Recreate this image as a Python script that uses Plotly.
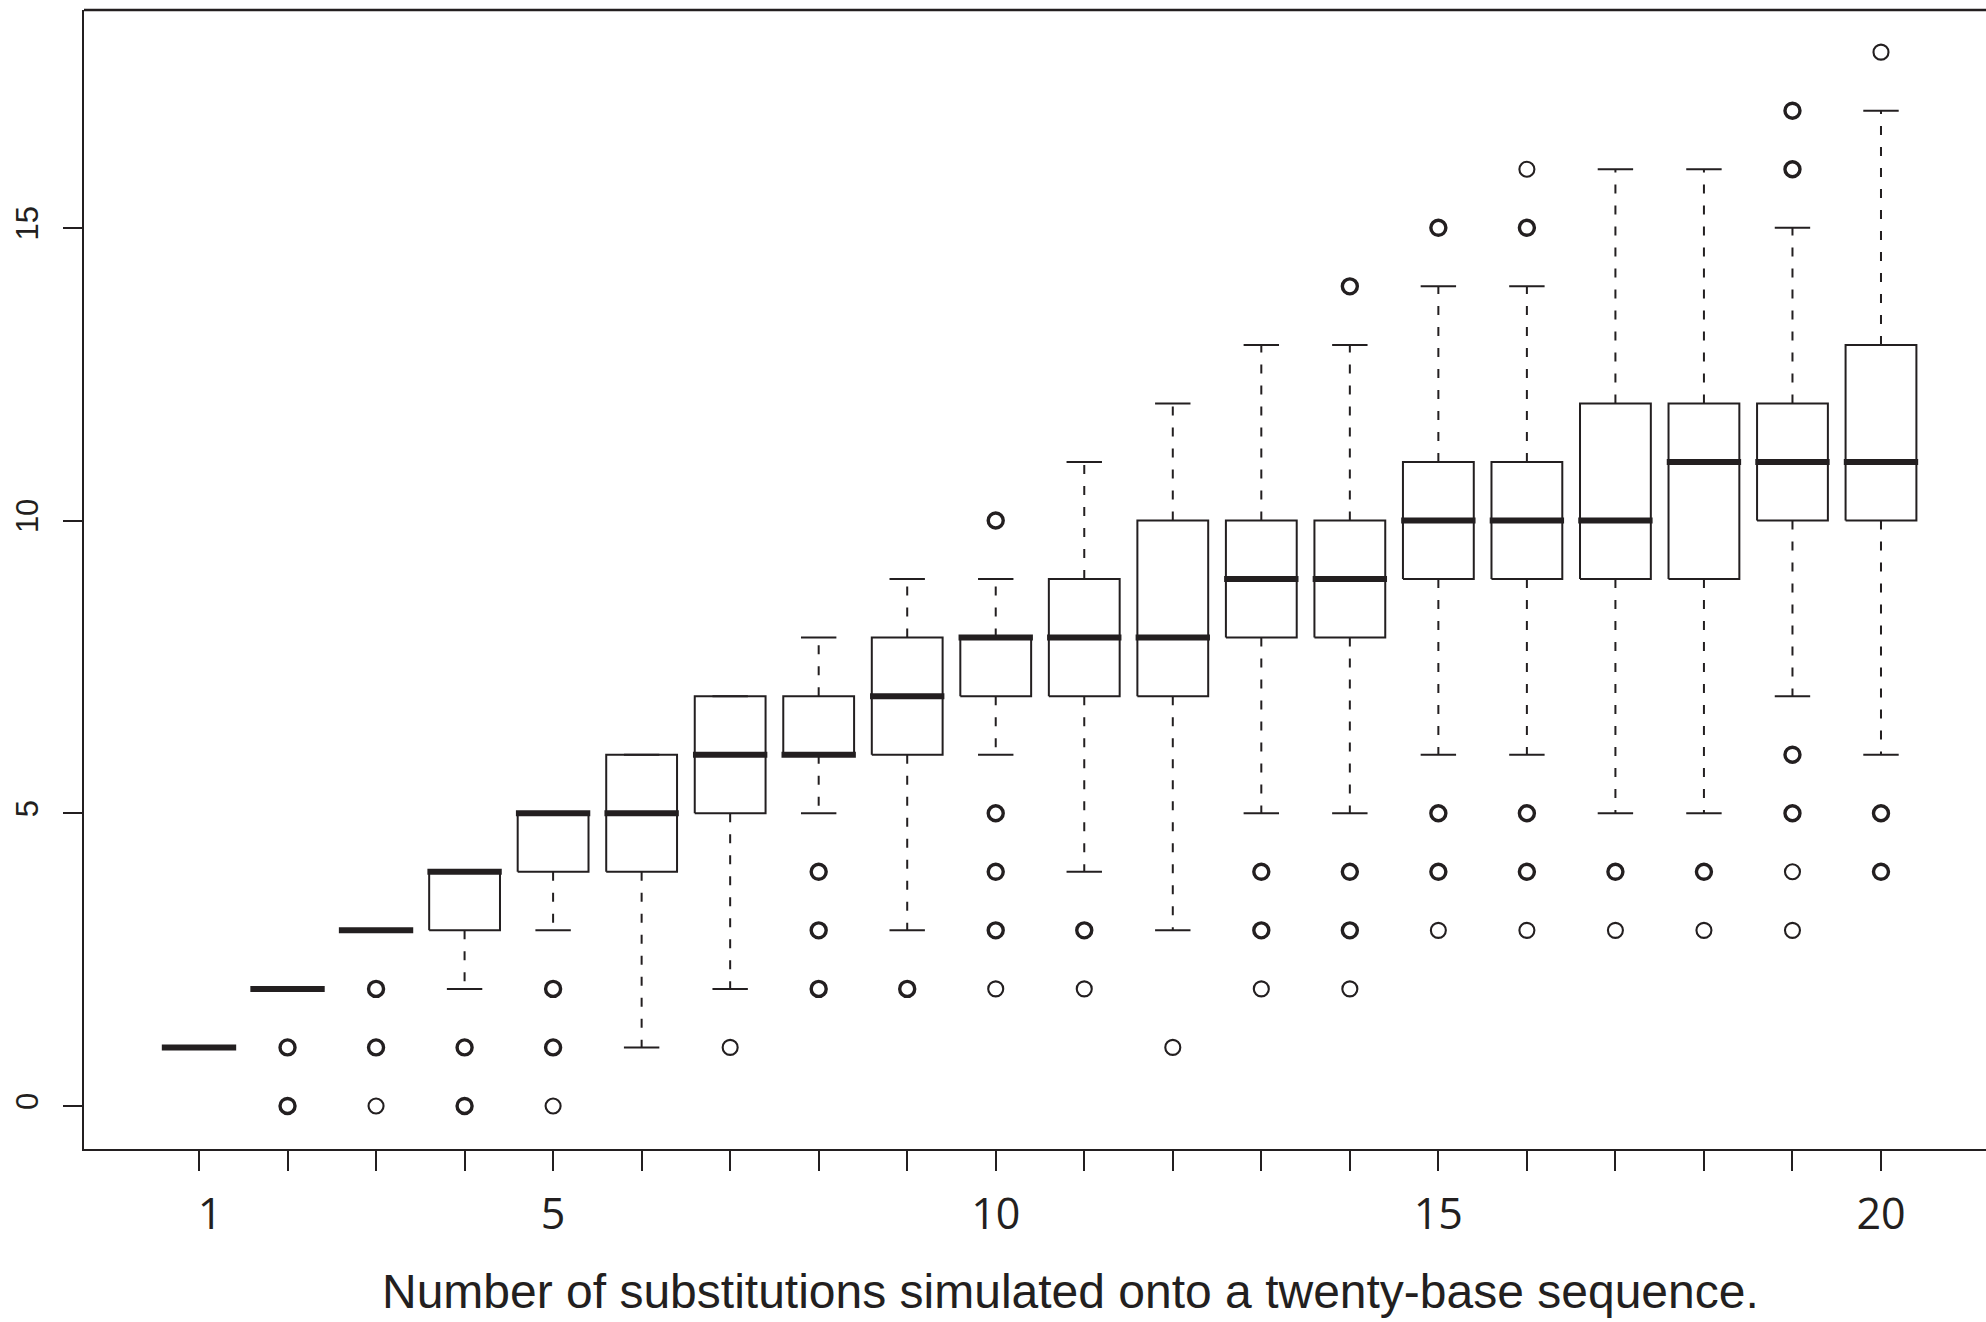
import plotly.graph_objects as go
from collections import Counter

# ---------------- data ----------------
substitutions = list(range(1, 21))
q1 = [1, 2, 3, 3, 4, 4, 5, 6, 6, 7, 7, 7, 8, 8, 9, 9, 9, 9, 10, 10]
median = [1, 2, 3, 4, 5, 5, 6, 6, 7, 8, 8, 8, 9, 9, 10, 10, 10, 11, 11, 11]
q3 = [1, 2, 3, 4, 5, 6, 7, 7, 8, 8, 9, 10, 10, 10, 11, 11, 12, 12, 12, 13]
whisker_low = [1, 2, 3, 2, 3, 1, 2, 5, 3, 6, 4, 3, 5, 5, 6, 6, 5, 5, 7, 6]
whisker_high = [1, 2, 3, 4, 5, 6, 7, 8, 9, 9, 11, 12, 13, 13, 14, 14, 16, 16, 15, 17]
# repeated values = overplotted outliers (drawn heavier)
outliers = [
    [],
    [1, 1, 0, 0],
    [2, 2, 1, 1, 0],
    [1, 1, 0, 0],
    [2, 2, 1, 1, 0],
    [],
    [1],
    [4, 4, 3, 3, 2, 2],
    [2, 2],
    [10, 10, 5, 5, 4, 4, 3, 3, 2],
    [3, 3, 2],
    [1],
    [4, 4, 3, 3, 2],
    [14, 14, 4, 4, 3, 3, 2],
    [15, 15, 5, 5, 4, 4, 3],
    [16, 15, 15, 5, 5, 4, 4, 3],
    [4, 4, 3],
    [4, 4, 3],
    [17, 17, 16, 16, 6, 6, 5, 5, 4, 3],
    [18, 5, 5, 4, 4],
]
x_tick_values = substitutions
x_tick_labels = ["  1", "", "", "", "5", "", "", "", "", "10",
                 "", "", "", "", "15", "", "", "", "", "20"]
y_tick_values = [0, 5, 10, 15]
x_title = "Number of substitutions simulated onto a twenty-base sequence."

# ---------------- styling ----------------
INK = "#231f20"
BOX_HALF = 0.4      # boxwex 0.8
CAP_HALF = 0.2      # staplewex 0.5

W, H = 1986, 1322
ML, MR, MT, MB = 84, 0, 10, 173

box_x, box_y = [], []
med_x, med_y = [], []
wh_x, wh_y = [], []
cap_x, cap_y = [], []
for i, x in enumerate(substitutions):
    l, r = x - BOX_HALF, x + BOX_HALF
    box_x += [l, r, r, l, l, None]
    box_y += [q1[i], q1[i], q3[i], q3[i], q1[i], None]
    med_x += [l - 0.02, r + 0.02, None]
    med_y += [median[i], median[i], None]
    wh_x += [x, x, None, x, x, None]
    wh_y += [q3[i], whisker_high[i], None, q1[i], whisker_low[i], None]
    cap_x += [x - CAP_HALF, x + CAP_HALF, None, x - CAP_HALF, x + CAP_HALF, None]
    cap_y += [whisker_high[i], whisker_high[i], None, whisker_low[i], whisker_low[i], None]

single_x, single_y, multi_x, multi_y = [], [], [], []
for x, outs in zip(substitutions, outliers):
    for v, n in Counter(outs).items():
        if n > 1:
            multi_x.append(x)
            multi_y.append(v)
        else:
            single_x.append(x)
            single_y.append(v)

fig = go.Figure()
fig.add_trace(go.Scatter(x=wh_x, y=wh_y, mode="lines", hoverinfo="skip",
                         line=dict(color=INK, width=2, dash="9px,12px")))
fig.add_trace(go.Scatter(x=cap_x, y=cap_y, mode="lines", hoverinfo="skip",
                         line=dict(color=INK, width=2)))
fig.add_trace(go.Scatter(x=box_x, y=box_y, mode="lines", hoverinfo="skip",
                         line=dict(color=INK, width=2)))
fig.add_trace(go.Scatter(x=med_x, y=med_y, mode="lines", hoverinfo="skip",
                         line=dict(color=INK, width=6)))
fig.add_trace(go.Scatter(x=single_x, y=single_y, mode="markers", hoverinfo="skip",
                         marker=dict(symbol="circle-open", size=15, color=INK,
                                     line=dict(width=2.1, color=INK))))
fig.add_trace(go.Scatter(x=multi_x, y=multi_y, mode="markers", hoverinfo="skip",
                         marker=dict(symbol="circle-open", size=15, color=INK,
                                     line=dict(width=3.4, color=INK))))

px_per_x = 88.526
x_lo = 1 - (199 - ML) / px_per_x
x_hi = x_lo + (W - ML - MR) / px_per_x

fig.update_layout(
    width=W, height=H,
    margin=dict(l=ML, r=MR, t=MT, b=MB, pad=0),
    paper_bgcolor="white", plot_bgcolor="white",
    showlegend=False,
    xaxis=dict(
        range=[x_lo, x_hi], showgrid=False, zeroline=False,
        showline=True, linecolor=INK, linewidth=2.3,
        ticks="outside", ticklen=20, tickwidth=1.8, tickcolor=INK,
        tickvals=x_tick_values, ticktext=x_tick_labels,
        tickfont=dict(family="Open Sans", size=43, color=INK),
        ticklabelstandoff=6,
    ),
    yaxis=dict(
        range=[-0.735, 18.72], showgrid=False, zeroline=False,
        showline=True, linecolor=INK, linewidth=2.3,
        ticks="outside", ticklen=19, tickwidth=1.8, tickcolor=INK,
        tickvals=y_tick_values, ticktext=[str(v) for v in y_tick_values],
        tickangle=-90,
        tickfont=dict(family="Liberation Sans, Arial", size=31, color=INK),
        ticklabelstandoff=12,
    ),
    shapes=[dict(type="line", xref="paper", yref="paper", x0=0, x1=1, y0=1, y1=1,
                 line=dict(color=INK, width=2.3))],
    annotations=[dict(
        text=x_title, xref="paper", yref="paper",
        x=(1070 - ML) / (W - ML - MR), y=(H - MB - 1291) / (H - MT - MB),
        xanchor="center", yanchor="middle", showarrow=False,
        font=dict(family="Liberation Sans, Arial", size=48, color=INK),
    )],
)

fig.write_html(
    "out.html",
    config={"displayModeBar": False},
    post_script="document.body.style.margin='0';document.body.style.overflow='hidden';",
)
